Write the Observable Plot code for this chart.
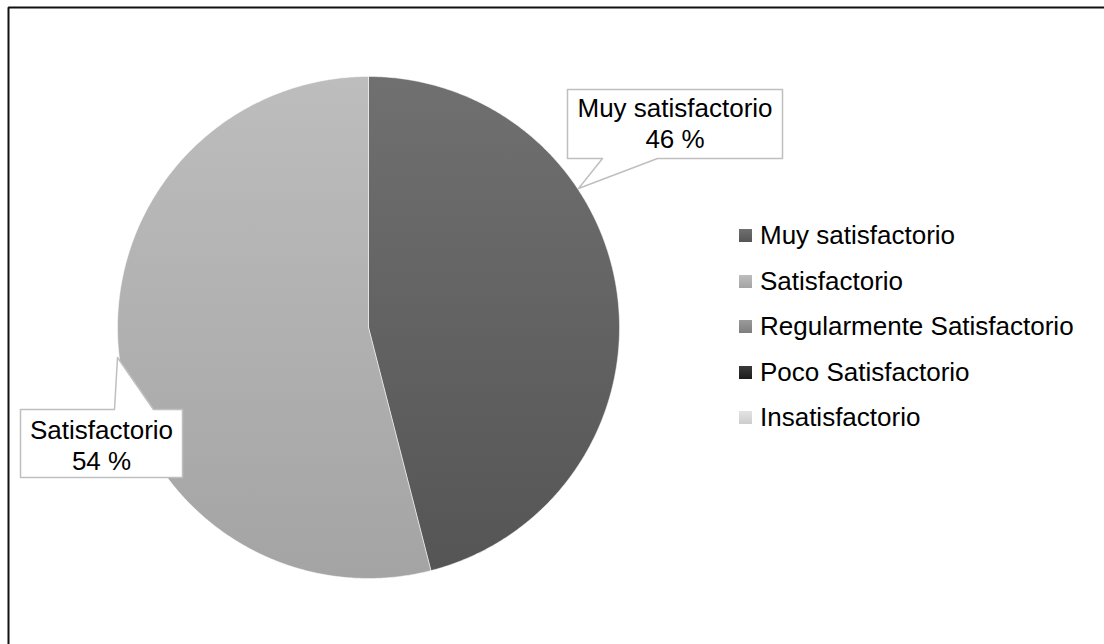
<!DOCTYPE html>
<html><head><meta charset="utf-8">
<script src="https://cdn.jsdelivr.net/npm/d3@7"></script>
<script src="https://cdn.jsdelivr.net/npm/@observablehq/plot@0.6"></script>
<style>
html,body{margin:0;padding:0;background:#fff;overflow:hidden;}
#wrap{position:relative;width:1104px;height:644px;overflow:hidden;font-family:"Liberation Sans",Arial,sans-serif;}
#wrap svg{position:absolute;left:0;top:0;}
#legend{position:absolute;left:739px;top:213px;}
.row{display:flex;align-items:center;height:45.5px;font-size:26px;color:#000;white-space:nowrap;}
.sw{width:13px;height:13px;margin-right:8px;flex:none;}
</style>
</head><body>
<div id="wrap"></div>
<script>
const categories = ["Muy satisfactorio","Satisfactorio","Regularmente Satisfactorio","Poco Satisfactorio","Insatisfactorio"];
const percents = [46, 54, 0, 0, 0];
const gradTop = ["#707070","#bdbdbd","#9a9a9a","#3a3a3a","#e3e3e3"];
const gradBottom = ["#555555","#a4a4a4","#7e7e7e","#1c1c1c","#cdcdcd"];

// layout (pixels)
const CX = 368, CY = 327, R = 251;
const px = v => (v - CX) / R;
const py = v => (CY - v) / R;

const callouts = [
  {cat: 0, poly: [[567,89],[782,89],[782,158],[657,158],[578,188],[602,158],[567,158],[567,89]], tx: 674.5, ty: 122.5},
  {cat: 1, poly: [[20,409],[114,409],[117,357],[153,409],[182,409],[182,477],[20,477],[20,409]], tx: 101, ty: 444}
];
// chart frame (left and top edges visible; right/bottom are cropped off)
const framePts = [[8, 700], [8, 7], [1200, 7]];

const total = d3.sum(percents);
let acc = 0;
const slices = categories.map((c, i) => {
  const a0 = acc / total * 2 * Math.PI; acc += percents[i];
  const a1 = acc / total * 2 * Math.PI;
  return {c, i, a0, a1};
}).filter(s => s.a1 > s.a0);

function slicePts(s) {
  const n = Math.max(2, Math.ceil((s.a1 - s.a0) / (Math.PI / 360)));
  const pts = [{x: 0, y: 0}];
  for (let k = 0; k <= n; k++) {
    const a = s.a0 + (s.a1 - s.a0) * k / n;
    pts.push({x: Math.sin(a), y: Math.cos(a)});
  }
  pts.push({x: 0, y: 0});
  return pts;
}

const marks = [];
marks.push(Plot.line(framePts.map(p => ({x: px(p[0]), y: py(p[1])})), {x: "x", y: "y", stroke: "#111", strokeWidth: 2, curve: "linear", strokeLinejoin: "miter"}));
for (const s of slices) {
  marks.push(Plot.line(slicePts(s), {x: "x", y: "y", fill: `url(#g${s.i})`, stroke: "#ffffff", strokeWidth: 1, strokeOpacity: 0.5, curve: "linear"}));
}
for (const co of callouts) {
  marks.push(Plot.line(co.poly.map(p => ({x: px(p[0]), y: py(p[1])})), {x: "x", y: "y", fill: "#ffffff", stroke: "#bfbfbf", strokeWidth: 1.5, curve: "linear"}));
  marks.push(Plot.text([{x: px(co.tx), y: py(co.ty), t: categories[co.cat] + "\n" + percents[co.cat] + " %"}], {x: "x", y: "y", text: "t", fontSize: 26, lineHeight: 1.19, fill: "#000", textAnchor: "middle", fontFamily: "Liberation Sans, Arial, sans-serif"}));
}

const svg = Plot.plot({
  width: 1104, height: 644, margin: 0,
  x: {domain: [-1, 1], range: [CX - R, CX + R], axis: null},
  y: {domain: [-1, 1], range: [CY + R, CY - R], axis: null},
  style: {background: "transparent", fontFamily: "Liberation Sans, Arial, sans-serif", overflow: "hidden"},
  marks
});
const NS = "http://www.w3.org/2000/svg";
const defs = document.createElementNS(NS, "defs");
categories.forEach((c, i) => {
  const g = document.createElementNS(NS, "linearGradient");
  g.setAttribute("id", "g" + i);
  g.setAttribute("x1", "0"); g.setAttribute("y1", "0"); g.setAttribute("x2", "0"); g.setAttribute("y2", "1");
  [[0, gradTop[i]], [1, gradBottom[i]]].forEach(([o, col]) => {
    const st = document.createElementNS(NS, "stop");
    st.setAttribute("offset", o); st.setAttribute("stop-color", col);
    g.appendChild(st);
  });
  defs.appendChild(g);
});
svg.insertBefore(defs, svg.firstChild);

const wrap = document.getElementById("wrap");
wrap.appendChild(svg);
const legend = document.createElement("div"); legend.id = "legend";
categories.forEach((c, i) => {
  const row = document.createElement("div"); row.className = "row";
  const sw = document.createElement("div"); sw.className = "sw";
  sw.style.background = `linear-gradient(to bottom, ${gradTop[i]}, ${gradBottom[i]})`;
  const t = document.createElement("span"); t.textContent = c;
  row.appendChild(sw); row.appendChild(t); legend.appendChild(row);
});
wrap.appendChild(legend);
</script>
</body></html>
